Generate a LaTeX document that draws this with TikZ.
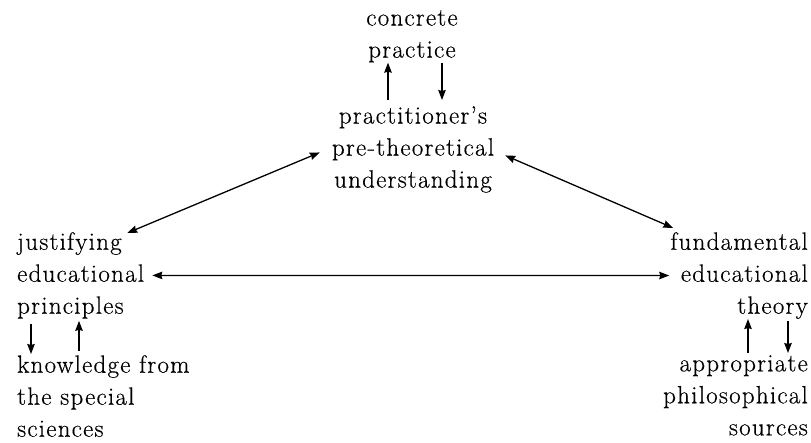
\documentclass[tikz,border=0pt]{standalone}
\usepackage{fontspec}
\setmainfont[LetterSpace=5,FakeBold=0.4]{Latin Modern Roman}
\usetikzlibrary{arrows.meta}

\begin{document}
\begin{tikzpicture}[>={Stealth[length=10pt,width=7.5pt,inset=1pt]},x=1pt,y=-1pt,inner sep=0pt,
	every node/.style={font=\fontsize{25}{32}\selectfont}]
\useasboundingbox (0,0) rectangle (811,442);

%% "cp" = concrete practice, "ptu" = pre-theoretical understanding, etc..

\node[anchor=north,align=center] (cp) at (412,10) {concrete\\practice};
\node[anchor=north,align=center] (ptu) at (413,106) {practitioner's\\pre-theoretical\\understanding};
\node[anchor=north west,align=left] (jep) at (17,232) {justifying\\educational\\principles};
\node[anchor=north west,align=left] (ksc) at (17,355) {knowledge from\\the special\\sciences};
\node[anchor=north east,align=right] (fet) at (808,232) {fundamental\\educational\\theory};
\node[anchor=north east,align=right] (aps) at (808,355) {appropriate\\philosophical\\sources};

\draw[line width=1.3pt,<->] ([shift={(-17,1)}]jep.north east) -- ([shift={(-12,3)}]ptu.west);
\draw[line width=1.3pt,<->] ([shift={(11,6)}]ptu.east) -- ([shift={(3,-4)}]fet.north west);
\draw[line width=1.3pt,<->] ([xshift=8]jep.east) -- ([xshift=-1]fet.west);

\draw[line width=1.3pt,->] ([shift={(-25,-6)}]ptu.north) -- ([shift={(-24,0)}]cp.south);
\draw[line width=1.3pt,->] ([shift={(30,0)}]cp.south) -- ([shift={(29,-6)}]ptu.north);
\draw[line width=1.3pt,->] ([shift={(14,5)}]jep.south west) -- ([shift={(14,-1)}]ksc.north west);
\draw[line width=1.3pt,->] ([shift={(62,-4)}]ksc.north west) -- ([shift={(62,2)}]jep.south west);
\draw[line width=1.3pt,->] ([shift={(-60,-2)}]aps.north east) -- ([shift={(-60,0)}]fet.south east);
\draw[line width=1.3pt,->] ([shift={(-20,2)}]fet.south east) -- ([shift={(-20,-2)}]aps.north east);
\end{tikzpicture}
\end{document}
